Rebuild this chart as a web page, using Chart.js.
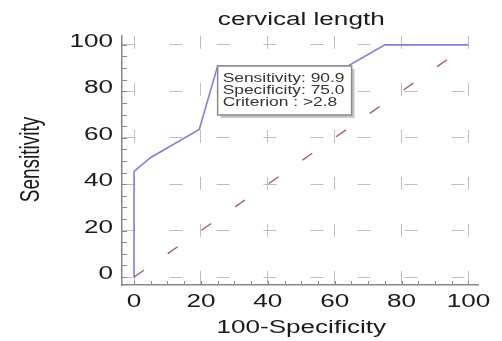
<!DOCTYPE html>
<html>
<head>
<meta charset="utf-8">
<script src="https://cdn.jsdelivr.net/npm/chart.js"></script>
<style>
  body { margin: 0; background: #fff; }
  canvas { display: block; }
</style>
</head>
<body>
<canvas id="roc" width="502" height="341"></canvas>
<script>
// ROC curve
const rocX = [0, 0, 5, 19.5, 25, 64, 75, 100];
const rocY = [0, 45.5, 51.5, 63.6, 90.9, 90.9, 100, 100];
const diagX = [0, 100];
const diagY = [0, 100];
const tickValues = [0, 20, 40, 60, 80, 100];
const boxLines = ["Sensitivity: 90.9", "Specificity: 75.0", "Criterion : >2.8"];
const boxAnchor = [25, 90.9];

const STRETCH = 1.45; // the source picture is stretched sideways
const FONT = "Liberation Sans, Arial, sans-serif";

function wideText(ctx, txt, x, y, size, align, rotate) {
  ctx.save();
  ctx.font = size + "px " + FONT;
  ctx.fillStyle = "#1a1a1a";
  ctx.textAlign = align;
  ctx.translate(x, y);
  ctx.scale(STRETCH, 1);
  if (rotate) ctx.rotate(-Math.PI / 2);
  ctx.fillText(txt, 0, 0);
  ctx.restore();
}

const decor = {
  id: "decor",
  afterDraw(chart) {
    const { ctx, chartArea } = chart;
    const xs = chart.scales.x, ys = chart.scales.y;

    // inward minor ticks every 5
    ctx.save();
    ctx.strokeStyle = "#888";
    ctx.lineWidth = 1;
    for (let v = 0; v <= 100; v += 5) {
      const px = Math.round(xs.getPixelForValue(v)) + 0.5;
      ctx.beginPath();
      ctx.moveTo(px, chartArea.bottom);
      ctx.lineTo(px, chartArea.bottom - 4);
      ctx.stroke();
      const py = Math.round(ys.getPixelForValue(v)) + 0.5;
      ctx.beginPath();
      ctx.moveTo(chartArea.left, py);
      ctx.lineTo(chartArea.left + 5, py);
      ctx.stroke();
    }
    ctx.restore();

    // tick labels
    tickValues.forEach(v => {
      wideText(ctx, String(v), xs.getPixelForValue(v), 307, 18, "center");
    });
    ctx.save();
    ctx.font = "18px " + FONT;
    ctx.fillStyle = "#1a1a1a";
    ctx.textAlign = "right";
    ctx.textBaseline = "middle";
    tickValues.forEach(v => {
      ctx.save();
      ctx.translate(113, ys.getPixelForValue(v) - 3);
      ctx.scale(STRETCH, 1);
      ctx.fillText(String(v), 0, 0);
      ctx.restore();
    });
    ctx.restore();

    // titles
    const cx = (chartArea.left + chartArea.right) / 2 + 1;
    wideText(ctx, "cervical length", cx, 25, 18, "center");
    wideText(ctx, "100-Specificity", cx, 333, 18, "center");
    wideText(ctx, "Sensitivity", 39, 159.5, 19, "center", true);

    // criterion box
    const bx = xs.getPixelForValue(boxAnchor[0]);
    const by = ys.getPixelForValue(boxAnchor[1]);
    const bw = 134, bh = 49;
    ctx.save();
    ctx.fillStyle = "#c8c8c8";
    ctx.fillRect(bx + 3, by + 3, bw, bh);
    ctx.fillStyle = "#fff";
    ctx.fillRect(bx, by, bw, bh);
    ctx.strokeStyle = "#8a8a8a";
    ctx.lineWidth = 1.5;
    ctx.strokeRect(bx, by, bw, bh);
    ctx.font = "12px " + FONT;
    ctx.fillStyle = "#333";
    boxLines.forEach((t, i) => {
      ctx.save();
      ctx.translate(bx + 5, by + 16 + i * 12);
      ctx.scale(STRETCH, 1);
      ctx.fillText(t, 0, 0);
      ctx.restore();
    });
    ctx.restore();
  }
};

function axisOpts(min, max) {
  return {
    type: "linear",
    min: min,
    max: max,
    afterBuildTicks: s => { s.ticks = tickValues.map(v => ({ value: v })); },
    afterFit: s => { if (s.isHorizontal()) s.height = 0; else s.width = 0; },
    ticks: { display: false },
    grid: { color: "#bdbdbd", lineWidth: 1, drawTicks: false },
    border: { display: true, color: "#888", width: 1.5, dash: [13, 34] }
  };
}

new Chart(document.getElementById("roc"), {
  type: "scatter",
  data: {
    datasets: [
      {
        data: diagX.map((x, i) => ({ x: x, y: diagY[i] })),
        showLine: true,
        borderColor: "#9a5a70",
        borderWidth: 1.3,
        borderDash: [12, 29],
        pointRadius: 0
      },
      {
        data: rocX.map((x, i) => ({ x: x, y: rocY[i] })),
        showLine: true,
        borderColor: "#8080d6",
        borderWidth: 1.6,
        pointRadius: 0
      }
    ]
  },
  options: {
    responsive: false,
    animation: false,
    devicePixelRatio: 1,
    layout: { padding: { left: 122, right: 23.5, top: 35.8, bottom: 56 } },
    plugins: { legend: { display: false }, tooltip: { enabled: false }, title: { display: false } },
    scales: {
      x: axisOpts(-3.6, 103),
      y: axisOpts(-3.43, 103.9)
    }
  },
  plugins: [decor]
});
</script>
</body>
</html>
